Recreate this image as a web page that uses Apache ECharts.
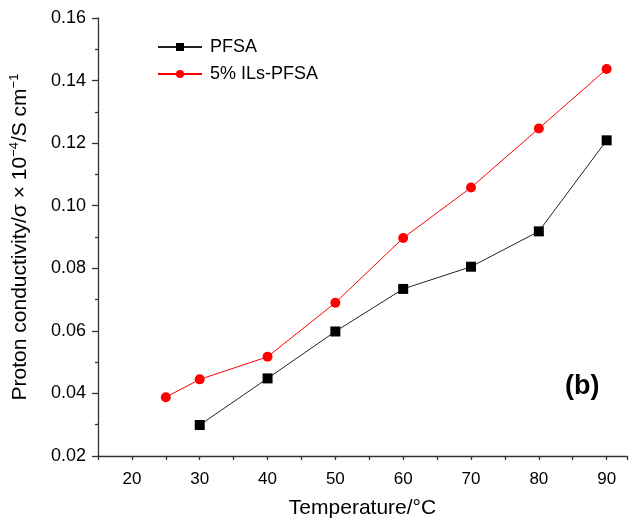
<!DOCTYPE html>
<html><head><meta charset="utf-8">
<script src="https://cdn.jsdelivr.net/npm/echarts@6/dist/echarts.min.js"></script>
<style>html,body{margin:0;padding:0;background:#fff}#c{width:630px;height:524px}</style>
</head><body><div id="c"></div>
<script>
const temperatures = [25, 30, 40, 50, 60, 70, 80, 90];
const pfsa = [null, 0.0299, 0.0448, 0.0598, 0.0734, 0.0805, 0.0918, 0.1209];
const ilsPfsa = [0.0388, 0.0445, 0.0517, 0.0690, 0.0897, 0.1058, 0.1247, 0.1437];
const seriesNames = ['PFSA', '5% ILs-PFSA'];

const toPairs = (xs, ys) => xs.map((x, i) => [x, ys[i]]).filter(p => p[1] !== null);
const font = 'Liberation Sans, Arial, sans-serif';

const chart = echarts.init(document.getElementById('c'));
chart.setOption({
  animation: false,
  grid: { left: 97, right: 2, top: 18, bottom: 66 },
  legend: {
    left: 152, top: 33, orient: 'vertical', itemGap: 9, itemWidth: 44, itemHeight: 10,
    textStyle: { fontFamily: font, fontSize: 18, color: '#000', padding: [0, 0, 0, 3] },
    data: seriesNames
  },
  xAxis: {
    type: 'value', min: 15, max: 93, interval: 5,
    name: 'Temperature/°C', nameLocation: 'middle', nameGap: 42,
    nameTextStyle: { fontFamily: font, fontSize: 21, color: '#000' },
    axisLine: { lineStyle: { color: '#333', width: 1.3 } },
    axisTick: { inside: false, length: 4, lineStyle: { color: '#333', width: 1.3 } },
    axisLabel: { fontFamily: font, fontSize: 17, color: '#000', margin: 15,
      formatter: v => (v % 10 === 0 ? String(v) : '') },
    splitLine: { show: false }
  },
  yAxis: {
    type: 'value', min: 0.02, max: 0.16, interval: 0.02,
    name: '{a|Proton conductivity/σ × 10}{s|−4}{a|/S cm}{s|−1}',
    nameLocation: 'middle', nameGap: 66,
    nameTextStyle: {
      rich: {
        a: { fontFamily: font, fontSize: 21, color: '#000' },
        s: { fontFamily: font, fontSize: 13, color: '#000', verticalAlign: 'top', padding: [0, 0, 11, 0] }
      }
    },
    axisLine: { show: true, lineStyle: { color: '#333', width: 1.3 } },
    axisTick: { show: true, length: 6, lineStyle: { color: '#333', width: 1.3 } },
    minorTick: { show: true, splitNumber: 2, length: 3, lineStyle: { color: '#333', width: 1.3 } },
    axisLabel: { fontFamily: font, fontSize: 18, color: '#000', margin: 12,
      formatter: v => v.toFixed(2) },
    splitLine: { show: false }
  },
  series: [
    {
      name: seriesNames[0], type: 'line', data: toPairs(temperatures, pfsa),
      symbol: 'rect', symbolSize: 10, color: '#000',
      lineStyle: { color: '#222', width: 1 }, itemStyle: { color: '#000' }
    },
    {
      name: seriesNames[1], type: 'line', data: toPairs(temperatures, ilsPfsa),
      symbol: 'circle', symbolSize: 10, color: '#ff0000',
      lineStyle: { color: '#ff0000', width: 1 }, itemStyle: { color: '#ff0000' }
    }
  ],
  graphic: [{
    type: 'text', left: 565, top: 373,
    style: { text: '(b)', fontFamily: font, fontSize: 27, fontWeight: 'bold', fill: '#000' }
  }]
});
</script></body></html>
